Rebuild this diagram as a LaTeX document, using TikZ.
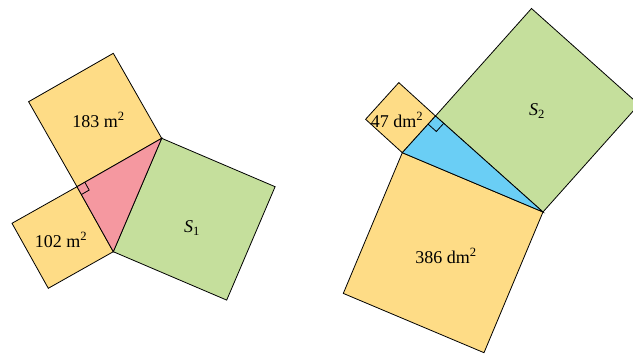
\documentclass[tikz,border=0pt]{standalone}
\usepackage{fontspec}
\usetikzlibrary{calc}
\setmainfont{Liberation Serif}
\definecolor{sqyellow}{RGB}{254,220,134}
\definecolor{sqgreen}{RGB}{197,223,156}
\definecolor{tripink}{RGB}{245,152,160}
\definecolor{triblue}{RGB}{106,206,245}
\tikzset{
  sq/.style={draw=black,line width=0.8pt,line join=miter},
  lab/.style={font=\fontsize{18}{20}\selectfont,inner sep=0pt},
  rmark/.style={draw=black,line width=0.8pt}
}
\begin{document}
\begin{tikzpicture}[x=1pt,y=-1pt]
\useasboundingbox (0,0) rectangle (633,356);
\clip (0,0) rectangle (633,356);
% left figure
\coordinate (A) at (77,186.7);
\coordinate (B) at (161.7,138.3);
\coordinate (C) at (113.3,251.7);
\coordinate (B1) at ($(B)+(-48.4,-85)$);
\coordinate (A1) at ($(A)+(-48.4,-85)$);
\coordinate (A2) at ($(A)+(-65,36.6)$);
\coordinate (C2) at ($(C)+(-65,36.6)$);
\coordinate (B3) at ($(B)+(113.4,48.4)$);
\coordinate (C3) at ($(C)+(113.4,48.4)$);
\filldraw[sq,fill=sqyellow] (A) -- (B) -- (B1) -- (A1) -- cycle;
\filldraw[sq,fill=sqyellow] (A) -- (A2) -- (C2) -- (C) -- cycle;
\filldraw[sq,fill=sqgreen] (B) -- (B3) -- (C3) -- (C) -- cycle;
\filldraw[sq,fill=tripink] (A) -- (B) -- (C) -- cycle;
\coordinate (Ab) at ($(A)!9pt!(B)$);
\coordinate (Ac) at ($(A)!9pt!(C)$);
\coordinate (Am) at ($(Ab)+(Ac)-(A)$);
\draw[rmark] (Ab) -- (Am) -- (Ac);
\node[lab] (l183) at (98.5,120) {183 m\textsuperscript{2}};
\node[lab] (l102) at (61,240) {102 m\textsuperscript{2}};
\node[lab] (ls1) at (192,228) {\textit{S}\textsubscript{1}};
% right figure
\coordinate (D) at (435.5,116);
\coordinate (E) at (402.3,152.7);
\coordinate (F) at (543,212);
\coordinate (D1) at ($(D)+(-36.7,-33.4)$);
\coordinate (E1) at ($(E)+(-36.7,-33.4)$);
\coordinate (D2) at ($(D)+(96,-107.5)$);
\coordinate (F2) at ($(F)+(96,-107.5)$);
\coordinate (E3) at ($(E)+(-59,140.7)$);
\coordinate (F3) at ($(F)+(-59,140.7)$);
\filldraw[sq,fill=sqyellow] (D) -- (D1) -- (E1) -- (E) -- cycle;
\filldraw[sq,fill=sqgreen] (D) -- (D2) -- (F2) -- (F) -- cycle;
\filldraw[sq,fill=sqyellow] (E) -- (F) -- (F3) -- (E3) -- cycle;
\filldraw[sq,fill=triblue] (D) -- (E) -- (F) -- cycle;
\coordinate (De) at ($(D)!11pt!(E)$);
\coordinate (Df) at ($(D)!11pt!(F)$);
\coordinate (Dm) at ($(De)+(Df)-(D)$);
\draw[rmark] (De) -- (Dm) -- (Df);
\node[lab] (l47) at (397,120) {47 dm\textsuperscript{2}};
\node[lab] (ls2) at (537,111) {\textit{S}\textsubscript{2}};
\node[lab] (l386) at (446,256) {386 dm\textsuperscript{2}};
\end{tikzpicture}
\end{document}
